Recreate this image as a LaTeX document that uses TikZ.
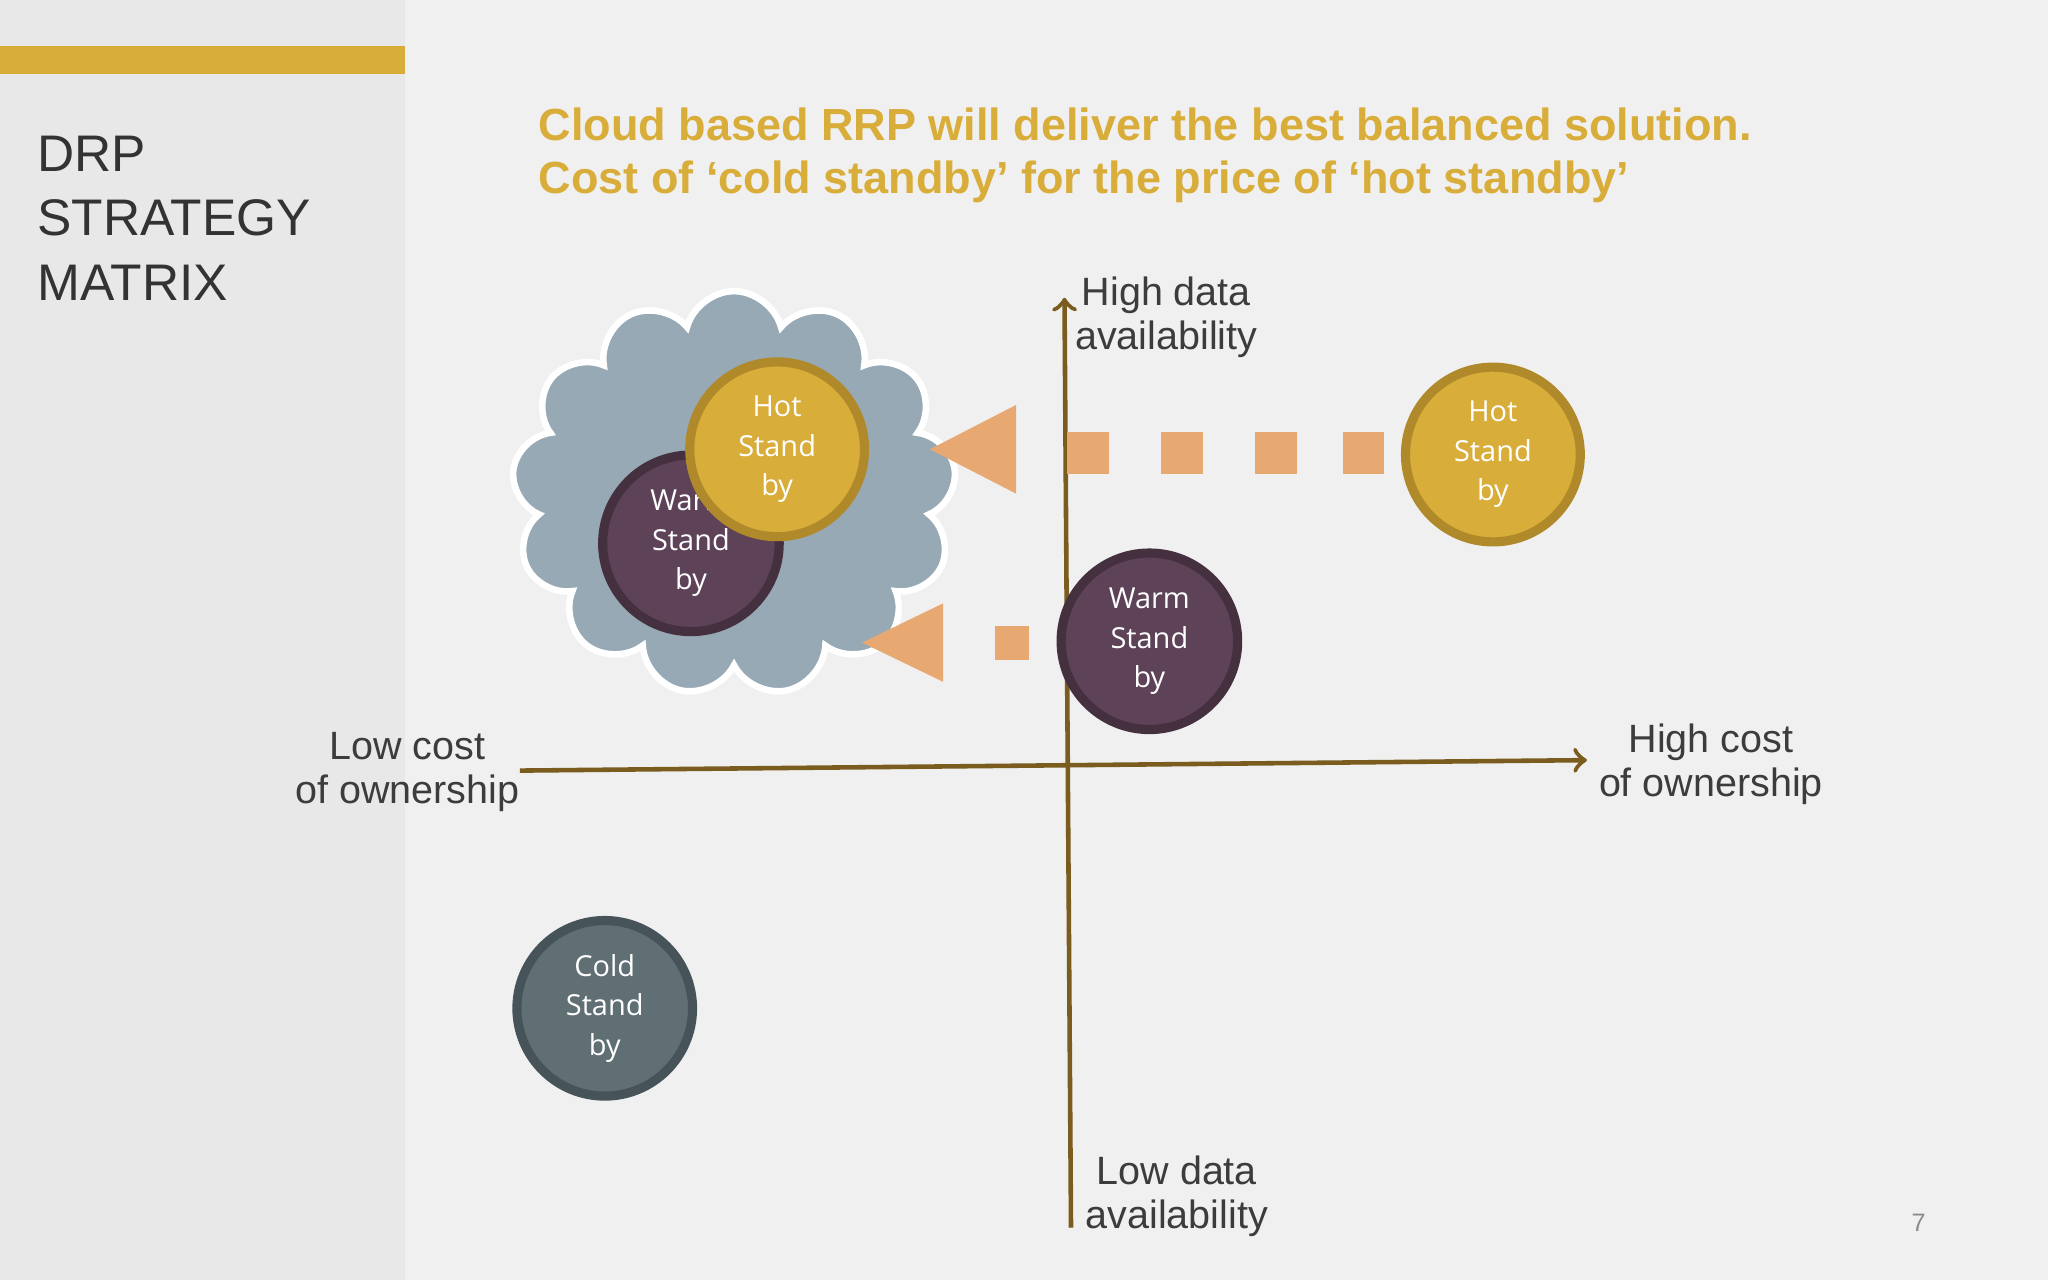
\documentclass[tikz,border=0pt]{standalone}
\usepackage{fontspec}
\setmainfont{Liberation Sans}
\newfontfamily\discfont{Open Sans}
\usetikzlibrary{positioning}
\usetikzlibrary{shapes.symbols}
\definecolor{gold}{HTML}{D9AD3A}
\definecolor{goldrim}{HTML}{B08A2A}
\definecolor{plum}{HTML}{5E4257}
\definecolor{plumrim}{HTML}{45303F}
\definecolor{slate}{HTML}{5F6F74}
\definecolor{slaterim}{HTML}{46545A}
\definecolor{axisbrown}{HTML}{7A5C1E}
\definecolor{darktext}{HTML}{3C3C3C}
\definecolor{tagorange}{HTML}{E8A872}
\definecolor{cloudgray}{HTML}{97A9B4}
\tikzset{
    disc/.style={draw, shape=circle, line width=0.7mm, minimum size=1.25cm,
        text=white, align=center, font=\discfont\fontsize{6.3}{8.6}\selectfont},
    hot/.style={disc, fill=gold, draw=goldrim},
    warm/.style={disc, fill=plum, draw=plumrim},
    cold/.style={disc, fill=slate, draw=slaterim},
    axislabel/.style={text=darktext, align=center, font=\fontsize{8.6}{9.6}\selectfont},
    tag/.style={fill=tagorange, draw=none},
}
\begin{document}
\begin{tikzpicture}[x=0.01cm, y=-0.01cm]
    \useasboundingbox (0,0) rectangle (1568,980);
    \fill[black!6] (0,0) rectangle (1568,980);
    \fill[black!9] (0,0) rectangle (310,980);
    \fill[gold] (0,35) rectangle (310,57);
    \node[anchor=west, text=black!80, align=left, inner sep=0pt,
        font=\fontsize{11.2}{14}\selectfont] (title) at (28,167)
        {DRP\\STRATEGY\\MATRIX};
    \node[anchor=west, text=gold, align=left,
        font=\bfseries\fontsize{9.8}{11.6}\selectfont] (head) at (400,119)
        {Cloud based RRP will deliver the best balanced solution.\\
         Cost of ‘cold standby’ for the price of ‘hot standby’};

    % cloud with the moved stand-bys
    \node[draw=white, fill=cloudgray, line width=0.5mm,
        shape=cloud, cloud puffs=13, aspect=1.1,
        minimum width=3.4cm, minimum height=3.1cm] (cloud) at (562,378) {};
    \node[warm] (W1) at (529,416) {Warm\\Stand\\by};
    \node[hot] (H1) at (595,344) {Hot\\Stand\\by};

    % axes
    \coordinate (south) at (820,940);
    \coordinate (north) at (815,228);
    \coordinate (west) at (398,590);
    \coordinate (east) at (1215,582);
    \draw[->, axisbrown, line width=0.35mm] (south) -- (north);
    \draw[->, axisbrown, line width=0.35mm] (west) -- (east);
    \node[axislabel] (hi) at (893,243) {High data\\availability};
    \node[axislabel] (lo) at (901,916) {Low data\\availability};
    \node[axislabel] (lc) at (312,591) {Low cost\\of ownership};
    \node[axislabel] (hc) at (1310,585) {High cost\\of ownership};

    % moves
    \foreach \x in {833,905,977,1044}
        \fill[tag] (\x-16,331) rectangle (\x+16,363);
    \fill[tag] (712,344) -- (778,310) -- (778,378) -- cycle;
    \fill[tag] (762,479) rectangle (788,505);
    \fill[tag] (660,492) -- (722,462) -- (722,522) -- cycle;

    % stand-bys
    \node[hot] (H2) at (1143,348) {Hot\\Stand\\by};
    \node[warm] (W2) at (880,491) {Warm\\Stand\\by};
    \node[cold] (C) at (463,772) {Cold\\Stand\\by};

    \node[text=black!45, font=\fontsize{5.5}{6}\selectfont] (page) at (1469,936) {7};
\end{tikzpicture}
\end{document}
